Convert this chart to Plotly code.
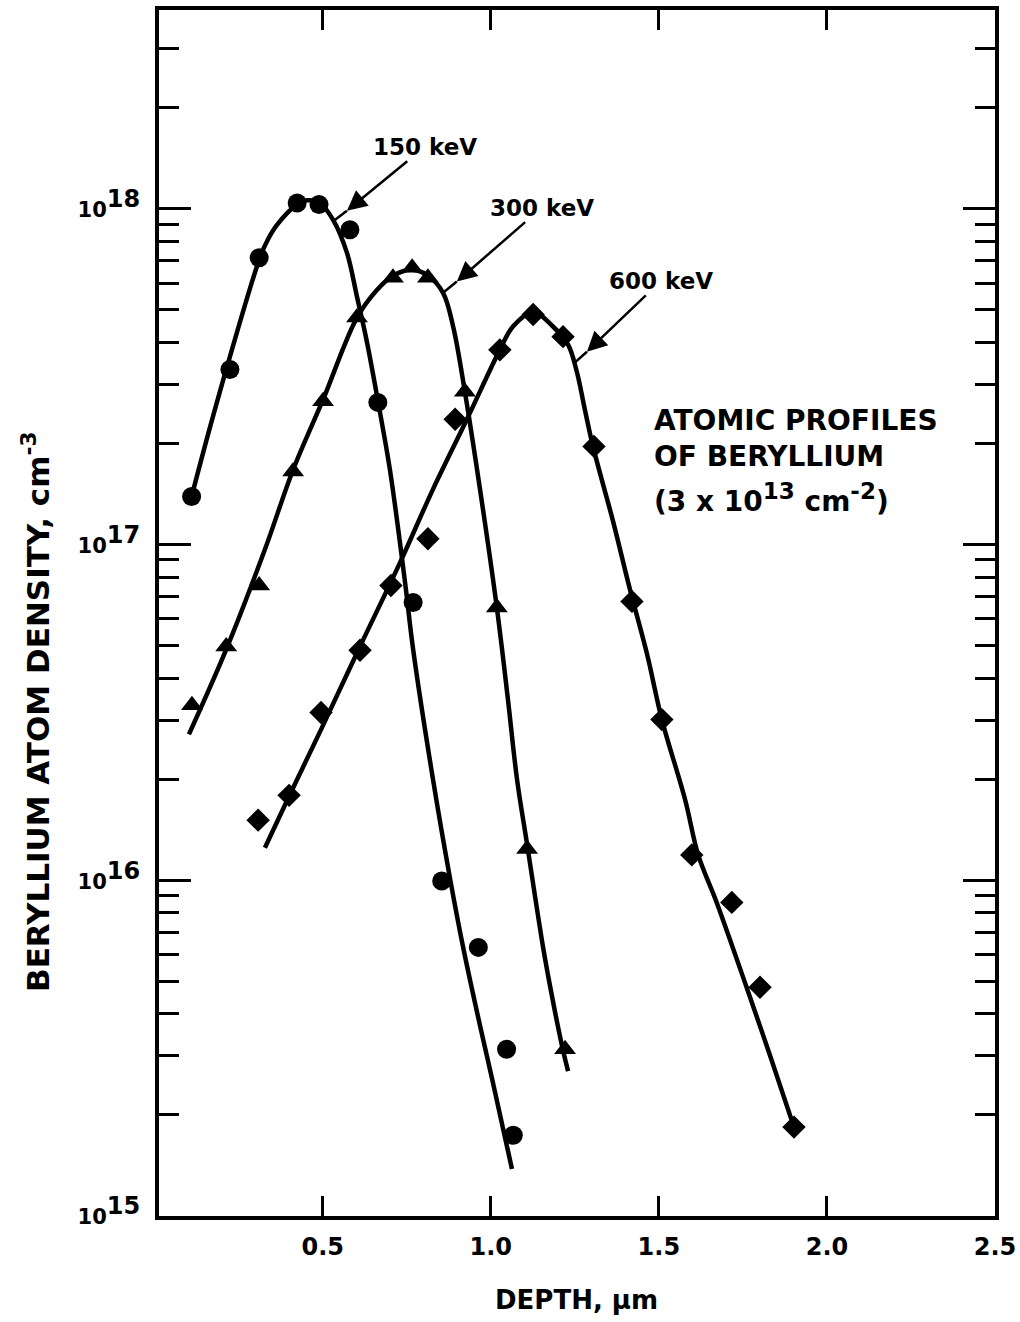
import plotly.graph_objects as go

# ---- data ----
# 150 keV measured points
x150 = [0.110, 0.224, 0.311, 0.424, 0.489, 0.581, 0.664, 0.769, 0.854, 0.963, 1.047, 1.067]
y150 = [1.39e17, 3.32e17, 7.15e17, 1.04e18, 1.03e18, 8.66e17, 2.65e17, 6.72e16, 9.95e15, 6.31e15, 3.14e15, 1.74e15]
# 150 keV fitted curve
x150_fit = [0.110, 0.165, 0.224, 0.314, 0.337, 0.364, 0.424, 0.453, 0.492, 0.531, 0.572, 0.602, 0.632,
            0.665, 0.700, 0.745, 0.769, 0.828, 0.879, 0.917, 0.959, 1.004, 1.063]
y150_fit = [1.39e17, 2.24e17, 3.63e17, 7.19e17, 8.10e17, 8.95e17, 1.03e18, 1.06e18, 1.04e18, 9.27e17, 7.40e17,
            5.47e17, 3.99e17, 2.65e17, 1.67e17, 7.71e16, 4.87e16, 2.00e16, 1.01e16, 6.37e15, 4.05e15,
            2.56e15, 1.38e15]

# 300 keV measured points
x300 = [0.111, 0.213, 0.311, 0.412, 0.501, 0.602, 0.709, 0.766, 0.813, 0.923, 1.018, 1.108, 1.221]
y300 = [3.32e16, 4.97e16, 7.55e16, 1.65e17, 2.67e17, 4.74e17, 6.23e17, 6.67e17, 6.23e17, 2.85e17,
        6.49e16, 1.24e16, 3.14e15]
# 300 keV fitted curve
x300_fit = [0.102, 0.213, 0.328, 0.412, 0.501, 0.602, 0.662, 0.709, 0.766, 0.813, 0.858, 0.888,
            0.923, 0.968, 1.018, 1.051, 1.078, 1.108, 1.155, 1.182, 1.212, 1.230]
y300_fit = [2.72e16, 4.87e16, 9.66e16, 1.67e17, 2.70e17, 4.74e17, 5.74e17, 6.32e17, 6.58e17, 6.32e17,
            5.62e17, 4.46e17, 2.85e17, 1.46e17, 6.49e16, 3.46e16, 2.00e16, 1.28e16, 6.37e15, 4.52e15,
            3.21e15, 2.70e15]

# 600 keV measured points
x600 = [0.308, 0.400, 0.495, 0.611, 0.703, 0.813, 0.894, 1.027, 1.126, 1.215, 1.307, 1.420, 1.509,
        1.598, 1.717, 1.801, 1.902]
y600 = [1.51e16, 1.79e16, 3.16e16, 4.84e16, 7.55e16, 1.04e17, 2.36e17, 3.80e17, 4.84e17, 4.16e17,
        1.96e17, 6.77e16, 3.01e16, 1.19e16, 8.59e15, 4.80e15, 1.84e15]
# 600 keV fitted curve
x600_fit = [0.328, 0.400, 0.495, 0.611, 0.730, 0.828, 0.929, 1.027, 1.066, 1.126, 1.185, 1.230,
            1.256, 1.280, 1.304, 1.364, 1.414, 1.465, 1.509, 1.578, 1.617, 1.672, 1.761, 1.831, 1.902]
y600_fit = [1.25e16, 1.78e16, 2.81e16, 4.97e16, 8.83e16, 1.46e17, 2.36e17, 3.80e17, 4.46e17, 4.93e17,
            4.46e17, 3.94e17, 3.27e17, 2.52e17, 1.96e17, 1.17e17, 7.35e16, 4.71e16, 3.01e16, 1.74e16,
            1.19e16, 8.59e15, 4.80e15, 3.00e15, 1.84e15]

# arrow stubs: short segment from each arrowhead to the curve it labels
stub_x = [[0.572, 0.537], [0.899, 0.858], [1.286, 1.250]]
stub_y = [[9.86e17, 9.27e17], [6.07e17, 5.62e17], [3.75e17, 3.48e17]]

x_tickvals = [0.5, 1.0, 1.5, 2.0, 2.5]
x_ticktext = ["0.5", "1.0", "1.5", "2.0", "2.5"]
y_tickvals = [1e15, 1e16, 1e17, 1e18]
y_exponents = ["15", "16", "17", "18"]
y_minor = [m * 10 ** d for d in (15, 16, 17) for m in range(2, 10)] + [2e18, 3e18]

FONT = "DejaVu Sans"
BLACK = "black"

def big_sup(s, px):
    return '<sup><span style="font-size:%dpx">%s</span></sup>' % (px, s)

y_ticktext = ['<span style="font-size:21px">10</span>' + big_sup(e, 24) for e in y_exponents]

fig = go.Figure()

def add_series(xf, yf, xm, ym, symbol, size):
    fig.add_trace(go.Scatter(x=xf, y=yf, mode="lines",
                             line=dict(color=BLACK, width=4.5, shape="spline", smoothing=1.0),
                             hoverinfo="skip", showlegend=False))
    fig.add_trace(go.Scatter(x=xm, y=ym, mode="markers",
                             marker=dict(symbol=symbol, size=size, color=BLACK, line=dict(width=0)),
                             showlegend=False))

add_series(x150_fit, y150_fit, x150, y150, "circle", 19)
add_series(x300_fit, y300_fit, x300, y300, "triangle-up", 19)
add_series(x600_fit, y600_fit, x600, y600, "diamond", 18)

for sx, sy in zip(stub_x, stub_y):
    fig.add_trace(go.Scatter(x=sx, y=sy, mode="lines", line=dict(color=BLACK, width=2.5),
                             hoverinfo="skip", showlegend=False))

fig.update_xaxes(range=[0.013, 2.5], tickvals=x_tickvals, ticktext=x_ticktext,
                 ticks="inside", ticklen=20, tickwidth=3, tickcolor=BLACK,
                 showline=True, linewidth=4, linecolor=BLACK, mirror="ticks",
                 showgrid=False, zeroline=False, automargin=False,
                 ticklabelstandoff=6,
                 tickfont=dict(family=FONT, size=24, color=BLACK, weight="bold"))
fig.update_yaxes(type="log", range=[15, 18.592], tickvals=y_tickvals, ticktext=y_ticktext,
                 ticks="inside", ticklen=32, tickwidth=3, tickcolor=BLACK,
                 minor=dict(tickvals=y_minor, ticks="inside", ticklen=20, tickwidth=3,
                            tickcolor=BLACK, showgrid=False),
                 showline=True, linewidth=4, linecolor=BLACK, mirror="ticks",
                 showgrid=False, zeroline=False, automargin=False,
                 ticklabelstandoff=10,
                 tickfont=dict(family=FONT, size=24, color=BLACK, weight="bold"))

L, T, W, H = 159, 10, 836, 1206

def px(xp):
    return (xp - L) / W

def py(yp):
    return (T + H - yp) / H

ann = []
lbl_font = dict(family=FONT, size=23, color=BLACK, weight="bold")
# energy labels with arrows pointing at the arrowhead position
for txt, hx, hy, ax, ay in [("150 keV", 0.572, 17.994, 78, -64),
                            ("300 keV", 0.899, 17.783, 85, -74),
                            ("600 keV", 1.286, 17.574, 74, -71)]:
    ann.append(dict(x=hx, y=hy, xref="x", yref="y", text=txt, showarrow=True, ax=ax, ay=ay,
                    arrowhead=2, arrowsize=1.6, arrowwidth=2.5, arrowcolor=BLACK,
                    font=lbl_font))

box_font = dict(family=FONT, size=28, color=BLACK, weight="bold")
for txt, yp in [("ATOMIC PROFILES", 421), ("OF BERYLLIUM", 456),
                ("(3 x 10" + big_sup("13", 23) + " cm" + big_sup("-2", 23) + ")", 498)]:
    ann.append(dict(x=px(652), y=py(yp), xref="paper", yref="paper",
                    xanchor="left", yanchor="middle", text=txt, showarrow=False, font=box_font))

ann.append(dict(x=px(576), y=py(1300), xref="paper", yref="paper",
                xanchor="center", yanchor="middle",
                text="DEPTH, \u03bcm", showarrow=False,
                font=dict(family=FONT, size=26, color=BLACK, weight="bold")))
ann.append(dict(x=px(36), y=py(712), xref="paper", yref="paper",
                xanchor="center", yanchor="middle",
                text="BERYLLIUM ATOM DENSITY, cm<sup>-3</sup>", textangle=-90,
                showarrow=False, font=dict(family=FONT, size=31, color=BLACK, weight="bold")))

fig.update_layout(width=1020, height=1322, margin=dict(l=L, r=1020 - L - W, t=T, b=1322 - T - H),
                  plot_bgcolor="white", paper_bgcolor="white", annotations=ann,
                  showlegend=False)

fig.write_html("out.html")
